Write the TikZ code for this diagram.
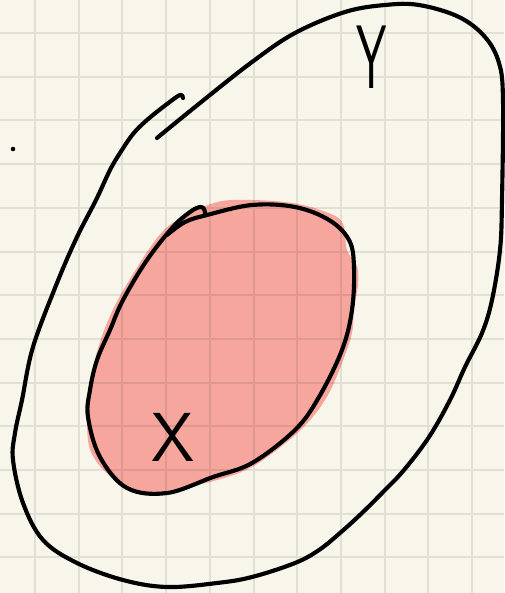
\documentclass[tikz,border=0pt]{standalone}
\usepackage{tikz}
\usetikzlibrary{positioning}
\definecolor{PaperCream}{HTML}{F8F6EB}
\definecolor{GridGray}{HTML}{E2E0D4}
\definecolor{BlobPink}{HTML}{F6A69C}
\definecolor{GridPink}{HTML}{E09991}

\newcommand{\blobshape}{plot[smooth cycle, tension=0.6] coordinates {
  (233,200) (285,202) (320,210) (342,222) (347,250) (357,266) (358,285)
  (354,307) (352,333) (342,363) (329,393) (312,418) (288,441) (250,468)
  (210,482) (175,489) (140,494) (110,476) (91,452) (87,422) (89,392)
  (97,352) (110,316) (127,284) (157,238) (180,218) (208,205)}}
\newcommand{\gridlines}[1]{%
  \foreach \i in {0,...,10}{\draw[line width=1.5pt, #1] ({35+\i*43.7},0) -- ({35+\i*43.7},593);}
  \foreach \j in {0,...,12}{\draw[line width=1.5pt, #1] (0,{33+\j*43.7}) -- (504,{33+\j*43.7});}}

\begin{document}
\begin{tikzpicture}[x=0.75pt, y=-0.75pt,
    pen/.style={line width=3.1pt, line cap=round, line join=round},
    letter/.style={font=\sffamily\fontsize{52}{52}\selectfont, inner sep=0pt}]
  \fill[PaperCream] (0,0) rectangle (504,593);
  \useasboundingbox (0,0) rectangle (504,593);
  \gridlines{GridGray}
  % red set X
  \fill[BlobPink] \blobshape;
  \begin{scope}
    \clip \blobshape;
    \gridlines{GridPink}
  \end{scope}
  % outer set Y
  \draw[pen] plot[smooth, tension=0.6] coordinates {
    (157,138) (200,103) (252,62) (295,33) (345,12) (385,5) (419,5) (459,17)
    (485,37) (499,63) (503,100) (502,200) (500,250) (492,300) (482,333)
    (465,367) (450,400) (429,437) (404,470) (385,490) (362,513) (340,533)
    (319,550) (295,563) (252,577) (217,583) (167,587) (123,580) (77,563)
    (43,540) (23,503) (13,460) (15,433) (22,400) (33,347) (57,283) (77,237)
    (96,200) (110,170) (120,153) (133,134) (147,120) (167,104) (180,95)
    (183,98)};
  % inner set X
  \draw[pen] plot[smooth, tension=0.6] coordinates {
    (167,235) (185,222) (207,215) (252,205) (295,207) (329,220) (349,240)
    (354,267) (352,310) (342,350) (319,397) (295,430) (252,463) (213,477)
    (167,493) (127,488) (100,457) (88,417) (90,390) (97,360) (110,330)
    (123,300) (147,260) (173,227) (190,212) (200,207) (204,209) (205,213)};
  % labels and the dot
  \node[letter] (labelX) at (173,437) {X};
  \node[letter, xscale=0.7, yscale=1.3] (labelY) at (372,57) {Y};
  \fill (13,149) circle (2.3);
\end{tikzpicture}
\end{document}
